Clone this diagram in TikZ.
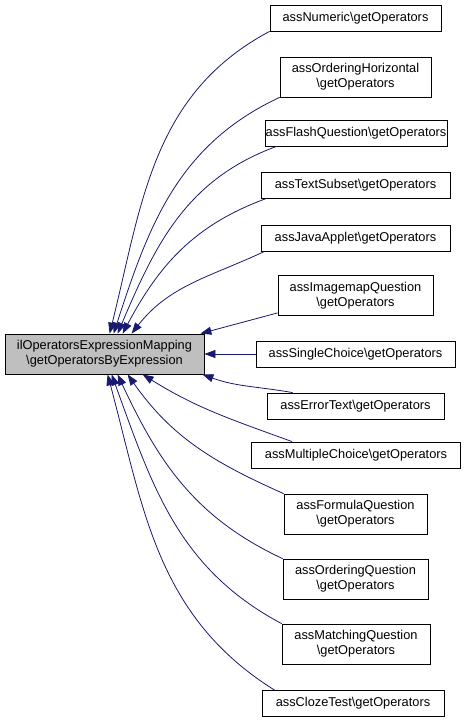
\documentclass[tikz,border=0pt]{standalone}
\usepackage{fontspec}
\setmainfont{Liberation Sans}
\usetikzlibrary{arrows.meta}
\definecolor{edgeblue}{HTML}{191970}
\definecolor{mainfill}{HTML}{BFBFBF}

\begin{document}
\begin{tikzpicture}[x=1pt, y=1pt,
    fn/.style={draw, line width=0.8pt, fill=white, inner sep=0, align=center,
      minimum height=26, font=\fontsize{12.8}{15}\selectfont},
    fntwo/.style={fn, minimum height=40},
    call/.style={draw=edgeblue, line width=0.8pt,
      -{Triangle[length=11pt, width=8pt]}, shorten >=0pt}]

    \useasboundingbox (0,0) rectangle (465,-723);

    % Called function
    \node[fntwo, fill=mainfill, minimum width=199] (main) at (104.5,-354)
    {ilOperatorsExpressionMapping\\\textbackslash getOperatorsByExpression};

    % Callers
    \node[fn, minimum width=171] (num) at (355.5,-18)
    {assNumeric\textbackslash getOperators};
    \node[fntwo, minimum width=151] (ordh) at (355.5,-77)
    {assOrderingHorizontal\\\textbackslash getOperators};
    \node[fn, minimum width=182] (flash) at (356,-133)
    {assFlashQuestion\textbackslash getOperators};
    \node[fn, minimum width=189] (subset) at (355.5,-185)
    {assTextSubset\textbackslash getOperators};
    \node[fn, minimum width=189] (java) at (355.5,-238)
    {assJavaApplet\textbackslash getOperators};
    \node[fntwo, minimum width=155] (imap) at (355.5,-295.5)
    {assImagemapQuestion\\\textbackslash getOperators};
    \node[fn, minimum width=199] (single) at (355.5,-354)
    {assSingleChoice\textbackslash getOperators};
    \node[fn, minimum width=177] (error) at (355.5,-406)
    {assErrorText\textbackslash getOperators};
    \node[fn, minimum width=209] (multi) at (356,-455)
    {assMultipleChoice\textbackslash getOperators};
    \node[fntwo, minimum width=143] (formula) at (355.5,-514)
    {assFormulaQuestion\\\textbackslash getOperators};
    \node[fntwo, minimum width=145] (ordq) at (355.5,-579)
    {assOrderingQuestion\\\textbackslash getOperators};
    \node[fntwo, minimum width=148] (match) at (356,-644)
    {assMatchingQuestion\\\textbackslash getOperators};
    \node[fn, minimum width=182] (cloze) at (353,-703.5)
    {assClozeTest\textbackslash getOperators};

    % Calls from above
    \draw[call] (num.south west) to[out=208, in=76] ([xshift=105]main.north west);
    \draw[call] (ordh.south west) to[out=205, in=72] ([xshift=109]main.north west);
    \draw[call] ([xshift=12]flash.south west) to[out=200, in=67] ([xshift=113]main.north west);
    \draw[call] ([xshift=6]subset.south west) to[out=200, in=62] ([xshift=118]main.north west);
    \draw[call] ([xshift=4]java.south west) to[out=205, in=52] ([xshift=127]main.north west);
    \draw[call] ([yshift=3]imap.south west) -- ([xshift=-4]main.north east);

    % Calls beside and below
    \draw[call] (single.west) -- (main.east);
    \draw[call] ([xshift=26]error.north west) to[out=170, in=-20] ([xshift=-2]main.south east);
    \draw[call] ([xshift=41]multi.north west) to[out=160, in=-32] ([xshift=138]main.south west);
    \draw[call] (formula.north west) to[out=156, in=-55] ([xshift=123]main.south west);
    \draw[call] (ordq.north west) to[out=155, in=-65] ([xshift=113]main.south west);
    \draw[call] (match.north west) to[out=152, in=-70] ([xshift=107]main.south west);
    \draw[call] ([xshift=13]cloze.north west) to[out=148, in=-75] ([xshift=103]main.south west);

\end{tikzpicture}
\end{document}
